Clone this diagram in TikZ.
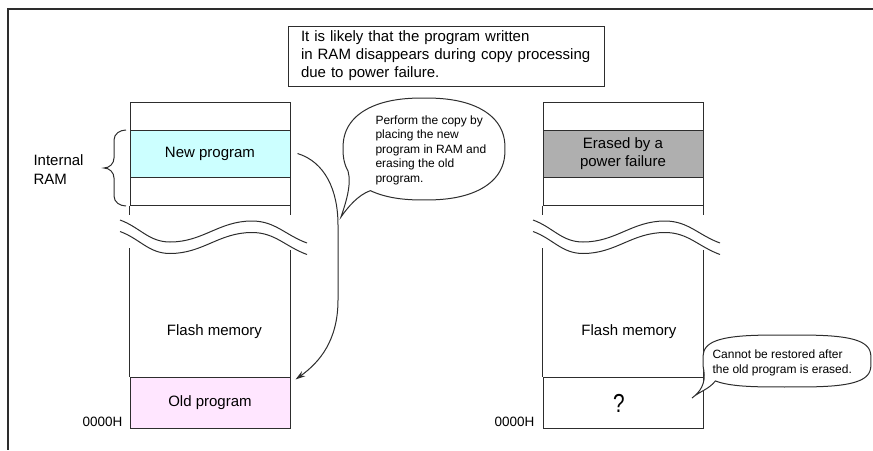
\documentclass[tikz,border=0pt]{standalone}
\usepackage{fontspec}
\setmainfont{Liberation Sans}
\usetikzlibrary{calc,arrows.meta}
\definecolor{ln}{RGB}{45,45,45}
\definecolor{cyanf}{RGB}{204,255,255}
\definecolor{pinkf}{RGB}{255,230,255}
\definecolor{grayf}{RGB}{175,175,175}
\pgfmathdeclarefunction{sqe}{2}{\pgfmathparse{#1*(abs(#1)+0.001)^(#2-1)}}
\begin{document}
\begin{tikzpicture}[x=1pt,y=-1pt,line width=1pt,draw=ln,
  blk/.style={draw=ln,rectangle,minimum width=160pt,inner sep=0pt,
    font=\fontsize{15}{18}\selectfont,align=center,text=black},
  lbl/.style={font=\fontsize{15}{18}\selectfont,text=black,inner sep=0pt},
  addr/.style={font=\fontsize{13.5}{16}\selectfont,text=black,inner sep=0pt,anchor=east},
  small/.style={font=\fontsize{12}{14.5}\selectfont,text=black,inner sep=0pt,anchor=west,align=left},
  breakwaves/.pic={
    \draw (0,0) to[out=-20,in=180] (50,22) to[out=0,in=180] (132,1) to[out=0,in=160] (187,23);
    \draw (0,11.5) to[out=-20,in=180] (50,33.5) to[out=0,in=180] (132,12.5) to[out=0,in=160] (187,34.5);
  }]
\useasboundingbox (0,0) rectangle (873,450);
% frame
\coordinate (frTR) at (873,9);
\coordinate (frTL) at (8,9);
\coordinate (frBL) at (8,450);
\draw[line width=1.5pt] (frTR) -- (frTL) -- (frBL);

% note box
\node[draw=ln,minimum width=316pt,minimum height=60pt,text width=290pt,align=left,
  font=\fontsize{15}{18}\selectfont,text=black] (note) at (446,56)
  {It is likely that the program written\\in RAM disappears during copy processing\\due to power failure.};

% ---------- left column ----------
\node[blk,minimum height=28pt] (ltop) at (210,116) {};
\node[blk,minimum height=47pt,fill=cyanf] (lnew) at (210,153.5) {New program};
\node[blk,minimum height=28pt] (lgap) at (210,191) {};
\draw (lgap.south west) -- ++(0,9);
\draw (lgap.south east) -- ++(0,9);
\pic at (120,220) {breakwaves};
\node[blk,minimum height=51pt,fill=pinkf] (lold) at (210,402.5) {Old program};
\draw (lold.north west) -- ++(0,-129);
\draw (lold.north east) -- ++(0,-127);
\node[lbl] (lflash) at (214.5,332) {Flash memory};
\node[addr] (laddr) at (123,422) {0000H};

% brace and label
\draw (126,130) to[out=180,in=90] (114,140) -- (114,158) to[out=-90,in=0] (104,168)
  to[out=0,in=90] (114,178) -- (114,196) to[out=-90,in=180] (126,206);
\node[lbl,anchor=west,align=left,font=\fontsize{15}{19}\selectfont] (iram) at (33,170) {Internal\\RAM};

% copy arrow
\draw[-{Stealth[length=10pt,width=6pt]}] ($(lnew.east)+(7,0)$)
  .. controls (325,162) and (338,190) .. (338,225) -- (338,300)
  .. controls (338,340) and (320,362) .. ($(lold.north east)+(5,3)$);

% bubble 1
\coordinate (b1tip) at (341,217);
\coordinate (b1a) at ({424+81*sqe(cos(158),0.85)},{149+51*sqe(sin(158),0.85)});
\draw[fill=white] (b1tip) .. controls (345,205) and (352,185) .. (b1a)
  -- plot[domain=158:488,samples=160] ({424+81*sqe(cos(\x),0.85)},{149+51*sqe(sin(\x),0.85)})
  .. controls (358,195) and (348,207) .. (b1tip) -- cycle;
\node[small] (b1txt) at (375,150) {Perform the copy by\\placing the new\\program in RAM and\\erasing the old\\program.};

% ---------- right column ----------
\node[blk,minimum height=28pt] (rtop) at (623,116) {};
\node[blk,minimum height=47pt,fill=grayf] (rerase) at (623,153.5) {Erased by a\\power failure};
\node[blk,minimum height=28pt] (rgap) at (623,191) {};
\draw (rgap.south west) -- ++(0,9);
\draw (rgap.south east) -- ++(0,9);
\pic at (533,220) {breakwaves};
\node[blk,minimum height=51pt] (rq) at (623,402.5) {};
\node[text=black,inner sep=0pt,font=\fontsize{26}{26}\selectfont,xscale=0.8] (qm) at (619,403) {?};
\draw (rq.north west) -- ++(0,-129);
\draw (rq.north east) -- ++(0,-127);
\node[lbl] (rflash) at (629,332) {Flash memory};
\node[addr] (raddr) at (535,422) {0000H};

% bubble 2
\coordinate (b2tip) at (692,398);
\coordinate (b2a) at ({787+84*sqe(cos(170),0.6)},{361+26*sqe(sin(170),0.6)});
\draw[fill=white] (b2tip) .. controls (700,392) and (706,384) .. (b2a)
  -- plot[domain=170:500,samples=160] ({787+84*sqe(cos(\x),0.6)},{361+26*sqe(sin(\x),0.6)})
  .. controls (708,390) and (700,391) .. (b2tip) -- cycle;
\node[small] (b2txt) at (712,363) {Cannot be restored after\\the old program is erased.};
\end{tikzpicture}
\end{document}
